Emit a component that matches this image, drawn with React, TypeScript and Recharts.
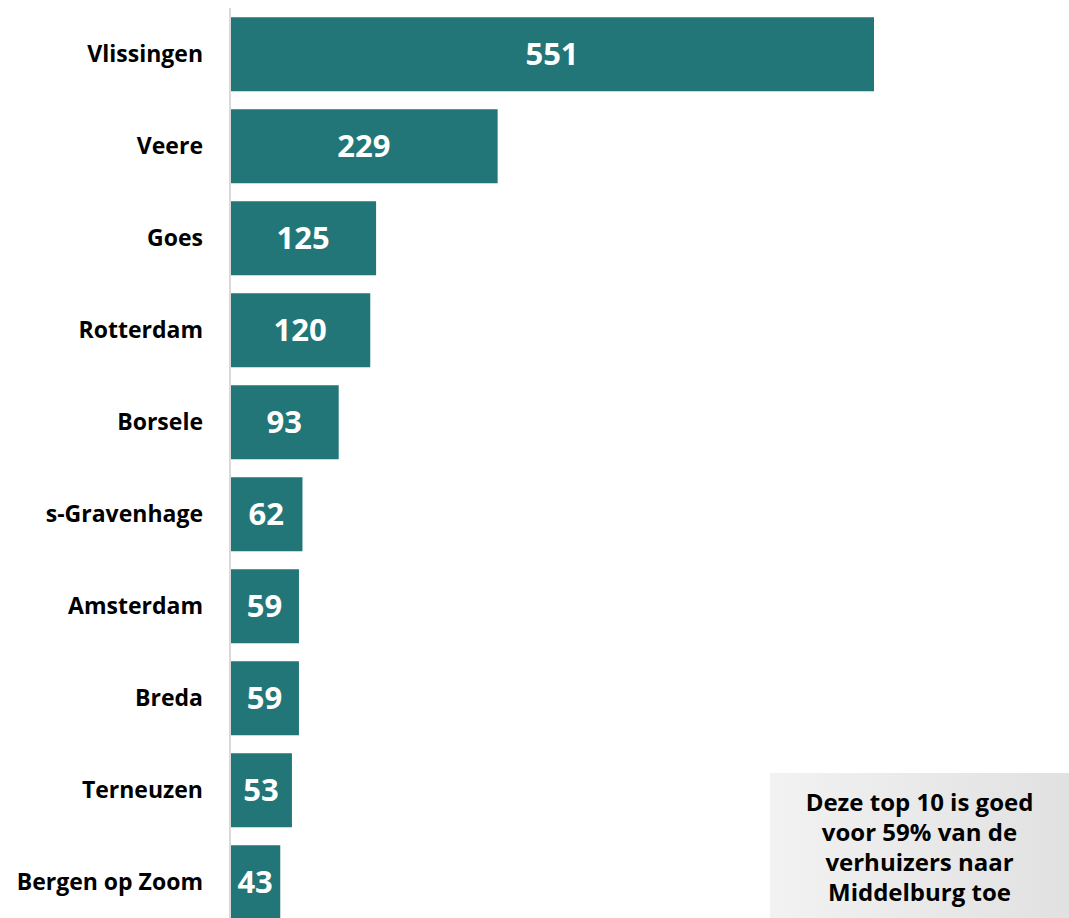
import { BarChart, Bar, XAxis, YAxis, LabelList } from 'recharts';

const gemeenten = [
  'Vlissingen',
  'Veere',
  'Goes',
  'Rotterdam',
  'Borsele',
  's-Gravenhage',
  'Amsterdam',
  'Breda',
  'Terneuzen',
  'Bergen op Zoom',
];
const verhuizers = [551, 229, 125, 120, 93, 62, 59, 59, 53, 43];

const noteLines = [
  'Deze top 10 is goed',
  'voor 59% van de',
  'verhuizers naar',
  'Middelburg toe',
];

const data = gemeenten.map((naam, i) => ({ naam, aantal: verhuizers[i] }));

const FONT = '"Open Sans", Roboto, sans-serif';
const TEAL = '#227678';

export default function App() {
  return (
    <div
      style={{
        position: 'fixed',
        left: 0,
        top: 0,
        width: 1069,
        height: 918,
        overflow: 'hidden',
        background: '#fff',
        fontFamily: FONT,
      }}
    >
      <BarChart
        width={1069}
        height={928}
        data={data}
        layout="vertical"
        barCategoryGap="10%"
        margin={{ top: 8, right: 195, bottom: 0, left: 0 }}
      >
        <XAxis type="number" domain={[0, 'dataMax']} hide />
        <YAxis
          type="category"
          dataKey="naam"
          width={230}
          tickLine={false}
          tickMargin={21}
          axisLine={{ stroke: '#d9d9d9', strokeWidth: 2 }}
          tick={{ fill: '#000', fontSize: 23, fontWeight: 700, fontFamily: FONT }}
        />
        <Bar dataKey="aantal" fill={TEAL} isAnimationActive={false}>
          <LabelList
            dataKey="aantal"
            position="center"
            fill="#fff"
            style={{ fontSize: 31, fontWeight: 700, fontFamily: FONT }}
          />
        </Bar>
      </BarChart>
      <div
        style={{
          position: 'absolute',
          left: 770,
          top: 773,
          width: 299,
          height: 145,
          boxSizing: 'border-box',
          paddingTop: 14,
          background: 'linear-gradient(to right, #f2f2f2, #e1e1e1)',
          textAlign: 'center',
          fontSize: 24,
          fontWeight: 700,
          lineHeight: '30px',
          color: '#000',
          whiteSpace: 'nowrap',
        }}
      >
        {noteLines.map((line) => (
          <div key={line}>{line}</div>
        ))}
      </div>
    </div>
  );
}
